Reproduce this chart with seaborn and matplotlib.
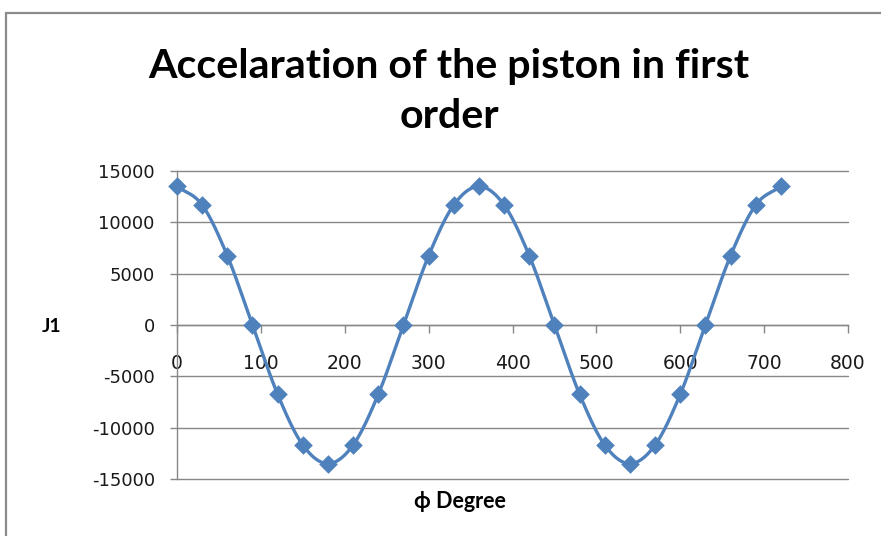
import numpy as np
import pandas as pd
import matplotlib
matplotlib.use("Agg")
import matplotlib.pyplot as plt
import seaborn as sns
from matplotlib.patches import Rectangle

# ---- data ----
degrees = [0, 30, 60, 90, 120, 150, 180, 210, 240, 270, 300, 330, 360,
           390, 420, 450, 480, 510, 540, 570, 600, 630, 660, 690, 720]
j1 = [13500, 11690, 6750, 0, -6750, -11690, -13500, -11690, -6750, 0, 6750, 11690, 13500,
      11690, 6750, 0, -6750, -11690, -13500, -11690, -6750, 0, 6750, 11690, 13500]
x_ticks = [0, 100, 200, 300, 400, 500, 600, 700, 800]
y_ticks = [-15000, -10000, -5000, 0, 5000, 10000, 15000]

title_lines = ["Accelaration of the piston in first", "order"]
x_label = "\u03d5 Degree"
y_label = "J1"

BLUE = "#4F81BD"
GRID = "#878787"

def smooth(xs, ys, n=20):
    """Catmull-Rom style smoothing of the series (like a spreadsheet 'smoothed line')."""
    xs = np.asarray(xs, float); ys = np.asarray(ys, float)
    px = np.concatenate([[2 * xs[0] - xs[1]], xs, [2 * xs[-1] - xs[-2]]])
    py = np.concatenate([[2 * ys[0] - ys[1]], ys, [2 * ys[-1] - ys[-2]]])
    ox, oy = [], []
    t = np.linspace(0, 1, n, endpoint=False)
    for i in range(1, len(px) - 2):
        for arr, out in ((px, ox), (py, oy)):
            p0, p1, p2, p3 = arr[i - 1], arr[i], arr[i + 1], arr[i + 2]
            out.extend(0.5 * ((2 * p1) + (-p0 + p2) * t + (2 * p0 - 5 * p1 + 4 * p2 - p3) * t ** 2
                              + (-p0 + 3 * p1 - 3 * p2 + p3) * t ** 3))
    ox.append(xs[-1]); oy.append(ys[-1])
    return np.array(ox), np.array(oy)

df = pd.DataFrame({"deg": degrees, "J1": j1})
sx, sy = smooth(degrees, j1)
df_s = pd.DataFrame({"deg": sx, "J1": sy})

sns.set_theme(style="white")
plt.rcParams["font.family"] = ["DejaVu Sans"]
plt.rcParams["text.color"] = "black"

fig = plt.figure(figsize=(8.81, 5.36), dpi=100)
W, H = 881, 536
ax = fig.add_axes([177 / W, 1 - 479 / H, (848 - 177) / W, (479 - 171) / H])

# outer chart frame
fig.patches.append(Rectangle((5.5 / W, -0.1), 1.2, 1 - 12.5 / H + 0.1, transform=fig.transFigure,
                             fill=False, edgecolor="#8a8a8a", linewidth=1.6))

sns.lineplot(data=df_s, x="deg", y="J1", ax=ax, color=BLUE, linewidth=2.4, sort=False,
             estimator=None, zorder=3)
sns.scatterplot(data=df, x="deg", y="J1", ax=ax, color=BLUE, marker="D", s=90,
                edgecolor=BLUE, linewidth=0, zorder=4, clip_on=False)

ax.set_xlim(0, 800)
ax.set_ylim(-15000, 15000)
ax.set_xticks(x_ticks)
ax.set_yticks(y_ticks)
ax.set_xticklabels([str(v) for v in x_ticks])
ax.set_yticklabels([str(v) for v in y_ticks])

ax.grid(axis="y", color=GRID, linewidth=1.0)
ax.grid(axis="x", visible=False)
ax.set_axisbelow(True)
for gl in ax.get_ygridlines():
    gl.set_clip_on(False)

for s in ["top", "right"]:
    ax.spines[s].set_visible(False)
ax.spines["bottom"].set_position(("data", 0))
ax.spines["bottom"].set_color(GRID)
ax.spines["left"].set_color(GRID)
ax.spines["bottom"].set_linewidth(1.0)
ax.spines["left"].set_linewidth(1.0)

ax.tick_params(axis="x", direction="out", length=6, width=1, color=GRID, pad=15,
               labelsize=13.5, labelcolor="#1a1a1a", bottom=True)
ax.tick_params(axis="y", direction="out", length=5, width=1, color=GRID, pad=11,
               labelsize=13, labelcolor="#1a1a1a", left=True)

ax.set_xlabel("")
ax.set_ylabel("")

fig.text(449 / W, 1 - 78 / H, title_lines[0], ha="center", va="baseline", fontsize=29.6,
         fontweight="bold", family=["Lato", "DejaVu Sans"], color="black")
fig.text(449 / W, 1 - 128 / H, title_lines[1], ha="center", va="baseline", fontsize=29.6,
         fontweight="bold", family=["Lato", "DejaVu Sans"], color="black")
fig.text(460 / W, 1 - 502 / H, x_label, ha="center", va="center", fontsize=15.5,
         fontweight="bold", family=["Lato", "DejaVu Sans"], color="black")
fig.text(52 / W, 1 - 326 / H, y_label, ha="center", va="center", fontsize=14,
         fontweight="bold", family=["Lato", "DejaVu Sans"], color="black")

fig.savefig("out.png", dpi=100)
